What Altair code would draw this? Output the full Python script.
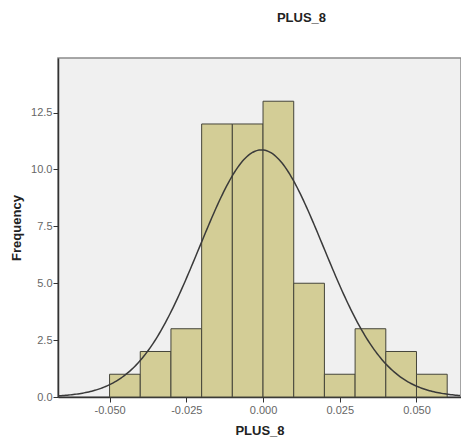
import altair as alt
import pandas as pd

# Histogram data
bin_lo = [-0.05, -0.04, -0.03, -0.02, -0.01, 0.00, 0.01, 0.02, 0.03, 0.04, 0.05]
bin_hi = [-0.04, -0.03, -0.02, -0.01, 0.00, 0.01, 0.02, 0.03, 0.04, 0.05, 0.06]
counts = [1, 2, 3, 12, 12, 13, 5, 1, 3, 2, 1]

# Fitted normal curve parameters
n_total = 55
bin_width = 0.01
curve_mean = -0.0005
curve_sd = 0.0202

x_ticks = [-0.05, -0.025, 0.0, 0.025, 0.05]
y_ticks = [0, 2.5, 5, 7.5, 10, 12.5]
x_domain = [-0.0668, 0.0645]
y_domain = [0, 14.9]

bars_df = pd.DataFrame({"lo": bin_lo, "hi": bin_hi, "count": counts})

FONT = "Liberation Sans"

x_scale = alt.Scale(domain=x_domain, nice=False, zero=False)
y_scale = alt.Scale(domain=y_domain, nice=False)

bars = alt.Chart(bars_df).mark_rect(
    fill="#d3cd96", stroke="#45453a", strokeWidth=1
).encode(
    x=alt.X("lo:Q", scale=x_scale,
            axis=alt.Axis(values=x_ticks, title="PLUS_8",
                          labelExpr="replace(format(datum.value, '.3f'), '\u2212', '-')")),
    x2="hi:Q",
    y=alt.Y("count:Q", scale=y_scale,
            axis=alt.Axis(values=y_ticks, format=".1f", title="Frequency")),
    y2=alt.datum(0),
)

amp = n_total * bin_width / (curve_sd * 2.5066282746)
curve = alt.Chart(
    alt.sequence(start=x_domain[0], stop=x_domain[1], step=0.0005, as_="x")
).transform_calculate(
    y=f"{amp} * exp(-0.5 * pow((datum.x - ({curve_mean})) / {curve_sd}, 2))"
).mark_line(color="#3a3a3a", strokeWidth=1.5, clip=True).encode(
    x=alt.X("x:Q", scale=x_scale),
    y=alt.Y("y:Q", scale=y_scale),
)

chart = alt.layer(bars, curve).properties(
    width=403,
    height=339,
    padding={"left": 50, "top": 50, "right": 0, "bottom": 43},
    autosize="none",
    title=alt.TitleParams("PLUS_8", fontSize=13, font=FONT, fontWeight="bold",
                          color="#222", anchor="middle", dx=42, offset=33),
).configure_view(
    fill="#f0f0f0", stroke="#8a8a8a", strokeWidth=1.5
).configure_axis(
    grid=False,
    domainColor="#333333",
    domainWidth=1.5,
    tickColor="#333333",
    tickSize=5,
    labelFont=FONT,
    labelFontSize=11,
    labelColor="#666666",
    titleFont=FONT,
    titleFontSize=13,
    titleFontWeight="bold",
    titleColor="#222222",
).configure_axisX(
    labelPadding=2, titlePadding=9
).configure_axisY(
    labelPadding=1, titlePadding=7
)

chart.save("out.html", embed_options={"renderer": "svg", "actions": False})
